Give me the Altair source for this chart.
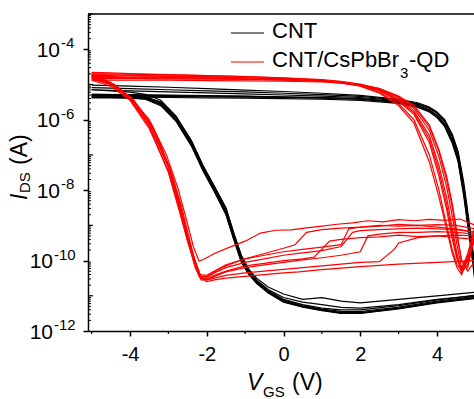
import altair as alt
import pandas as pd

# ---------------- data (log10 of I_DS in A) ----------------
# Black: CNT, forward sweeps (-5 -> 5)
BFX = [-5, -4, -3, -2, -1, 0, 1, 2, 3, 3.5, 3.8, 4.0, 4.2, 4.4, 4.55, 4.7, 4.8, 4.9, 5.0]
BF1 = [-5.02, -5.05, -5.08, -5.12, -5.16, -5.20, -5.25, -5.31, -5.42, -5.52, -5.64, -5.78, -6.00, -6.42, -6.90, -7.80, -8.60, -9.40, -10.3]
BF2 = [-5.15, -5.18, -5.21, -5.24, -5.27, -5.30, -5.33, -5.37, -5.46, -5.57, -5.68, -5.82, -6.06, -6.50, -7.00, -7.95, -8.75, -9.55, -10.4]
BF3 = [-5.28, -5.29, -5.30, -5.32, -5.33, -5.35, -5.37, -5.40, -5.49, -5.60, -5.72, -5.87, -6.12, -6.58, -7.10, -8.05, -8.85, -9.65, -10.5]
BF4 = [-5.32, -5.33, -5.34, -5.35, -5.36, -5.37, -5.39, -5.42, -5.51, -5.62, -5.75, -5.90, -6.16, -6.62, -7.15, -8.10, -8.95, -9.70, -10.6]
BF5 = [-5.35, -5.36, -5.37, -5.38, -5.39, -5.40, -5.42, -5.45, -5.54, -5.65, -5.78, -5.94, -6.20, -6.68, -7.20, -8.20, -9.00, -9.80, -10.7]
BF6 = [-5.09, -5.12, -5.15, -5.18, -5.21, -5.25, -5.29, -5.34, -5.44, -5.55, -5.66, -5.80, -6.03, -6.46, -6.95, -7.90, -8.70, -9.50, -10.4]
BF7 = [-5.30, -5.31, -5.32, -5.33, -5.34, -5.36, -5.38, -5.41, -5.50, -5.61, -5.74, -5.89, -6.14, -6.60, -7.12, -8.08, -8.90, -9.68, -10.55]

# Black: CNT, reverse sweeps (5 -> -5)
BRX = [5, 4, 3, 2, 1.5, 1, 0.5, 0, -0.4, -0.7, -0.9, -1.1, -1.3, -1.5, -1.8, -2.1, -2.4, -2.8, -3.2, -3.6, -4, -4.5, -5]
BR1 = [-10.90, -11.00, -11.10, -11.20, -11.15, -11.05, -11.10, -10.95, -10.75, -10.50, -10.25, -9.85, -9.20, -8.50, -7.90, -7.30, -6.60, -5.90, -5.45, -5.28, -5.22, -5.18, -5.15]
BR2 = [-10.98, -11.12, -11.28, -11.40, -11.40, -11.35, -11.25, -11.10, -10.85, -10.58, -10.30, -9.90, -9.25, -8.55, -7.92, -7.32, -6.62, -5.93, -5.50, -5.35, -5.30, -5.29, -5.28]
BR3 = [-11.02, -11.15, -11.32, -11.45, -11.44, -11.38, -11.28, -11.12, -10.88, -10.60, -10.35, -9.95, -9.30, -8.60, -7.95, -7.35, -6.65, -5.95, -5.52, -5.38, -5.34, -5.33, -5.32]
BR4 = [-11.05, -11.18, -11.35, -11.48, -11.47, -11.40, -11.30, -11.15, -10.90, -10.62, -10.38, -10.00, -9.35, -8.65, -8.00, -7.40, -6.70, -6.00, -5.55, -5.40, -5.37, -5.36, -5.35]
BR5 = [-11.08, -11.20, -11.37, -11.50, -11.50, -11.42, -11.32, -11.18, -10.92, -10.65, -10.40, -10.05, -9.40, -8.70, -8.05, -7.45, -6.75, -6.05, -5.60, -5.42, -5.39, -5.38, -5.38]
BR6 = [-11.00, -11.10, -11.25, -11.35, -11.33, -11.25, -11.18, -11.05, -10.82, -10.55, -10.28, -9.88, -9.22, -8.52, -7.90, -7.30, -6.60, -5.92, -5.50, -5.36, -5.33, -5.31, -5.30]
BR7 = [-11.06, -11.19, -11.36, -11.49, -11.49, -11.41, -11.31, -11.16, -10.91, -10.63, -10.39, -10.02, -9.37, -8.67, -8.02, -7.42, -6.72, -6.02, -5.57, -5.41, -5.38, -5.37, -5.36]

# Red: CNT/CsPbBr3-QD, forward sweeps (-5 -> 5)
RFX = [-5, -4.5, -4, -3, -2, -1, 0, 1, 1.5, 2, 2.5, 3.0, 3.4, 3.8, 4.05, 4.25, 4.4, 4.52, 4.64, 4.8, 5.0]
RF1 = [-4.66, -4.67, -4.69, -4.72, -4.75, -4.78, -4.82, -4.88, -4.94, -5.04, -5.22, -5.55, -6.00, -7.00, -8.00, -9.00, -9.70, -10.10, -10.30, -10.00, -9.30]
RF2 = [-4.72, -4.73, -4.74, -4.76, -4.78, -4.81, -4.84, -4.89, -4.94, -5.02, -5.18, -5.48, -5.85, -6.65, -7.60, -8.55, -9.40, -9.95, -10.25, -9.80, -9.00]
RF3 = [-4.78, -4.78, -4.79, -4.80, -4.82, -4.84, -4.86, -4.90, -4.95, -5.02, -5.15, -5.42, -5.75, -6.45, -7.30, -8.20, -9.10, -9.80, -10.35, -10.10, -9.20]
RF4 = [-4.83, -4.83, -4.83, -4.84, -4.85, -4.86, -4.88, -4.91, -4.95, -5.01, -5.13, -5.38, -5.68, -6.30, -7.05, -7.90, -8.75, -9.55, -10.20, -9.90, -9.40]
RF5 = [-4.88, -4.88, -4.88, -4.88, -4.89, -4.90, -4.91, -4.93, -4.96, -5.02, -5.12, -5.33, -5.60, -6.15, -6.85, -7.60, -8.40, -9.20, -10.00, -10.30, -10.00]
RF6 = [-4.75, -4.75, -4.76, -4.77, -4.79, -4.81, -4.84, -4.89, -4.95, -5.05, -5.25, -5.60, -6.10, -7.20, -8.20, -9.10, -9.80, -10.20, -10.40, -9.90, -9.10]
RF7 = [-4.70, -4.70, -4.71, -4.73, -4.75, -4.78, -4.81, -4.86, -4.91, -4.99, -5.12, -5.36, -5.62, -6.20, -6.90, -7.70, -8.50, -9.30, -10.00, -10.20, -9.20]
RF8 = [-4.80, -4.80, -4.81, -4.82, -4.83, -4.85, -4.87, -4.91, -4.96, -5.03, -5.17, -5.45, -5.80, -6.55, -7.45, -8.40, -9.25, -9.90, -10.30, -10.00, -9.25]

# Red: reverse sweeps (5 -> -5)
RR1X = [5, 4.5, 4.0, 3.5, 3.0, 2.9, 2.5, 2.0, 1.5, 1.0, 0.5, 0, -0.5, -1.0, -1.5, -1.8, -2.0, -2.15, -2.3, -2.5, -2.7, -3.0, -3.5, -4.0, -4.5, -5]
RR1 = [-9.30, -9.28, -9.30, -9.35, -9.50, -9.67, -10.03, -10.05, -10.10, -10.15, -10.20, -10.25, -10.30, -10.35, -10.42, -10.50, -10.55, -10.50, -10.10, -9.45, -8.65, -7.50, -6.20, -5.40, -4.95, -4.72]
RR2X = [5, 4.6, 4.2, 3.8, 3.4, 3.0, 2.6, 2.2, 1.8, 1.4, 1.0, 0.6, 0.2, -0.2, -0.6, -1.0, -1.4, -1.8, -2.05, -2.2, -2.35, -2.55, -2.75, -3.05, -3.5, -4.0, -4.5, -5]
RR2 = [-9.00, -8.82, -8.86, -8.83, -8.87, -8.84, -8.90, -8.87, -8.93, -8.97, -9.02, -9.07, -9.13, -9.14, -9.22, -9.45, -9.62, -9.80, -9.95, -10.02, -9.60, -8.75, -7.95, -7.00, -6.00, -5.35, -4.98, -4.78]
RR3X = [5, 4.5, 4.0, 3.5, 3.0, 2.5, 2.0, 1.8, 1.5, 1.0, 0.5, 0, -0.5, -1.0, -1.5, -1.8, -2.0, -2.15, -2.3, -2.45, -2.65, -2.95, -3.4, -3.9, -4.4, -5]
RR3 = [-9.20, -9.12, -9.10, -9.08, -9.10, -9.12, -9.15, -9.20, -9.60, -9.72, -9.78, -9.85, -9.95, -10.05, -10.20, -10.35, -10.48, -10.45, -10.05, -9.40, -8.50, -7.40, -6.25, -5.45, -5.02, -4.83]
RR4X = [5, 4.5, 4.0, 3.5, 3.0, 2.5, 2.0, 1.5, 1.2, 0.8, 0.5, 0, -0.5, -1.0, -1.5, -1.8, -2.0, -2.15, -2.3, -2.5, -2.7, -3.0, -3.5, -4.0, -4.5, -5]
RR4 = [-9.40, -9.35, -9.30, -9.32, -9.28, -9.33, -9.35, -9.40, -9.45, -9.90, -9.95, -10.00, -10.08, -10.15, -10.30, -10.42, -10.52, -10.50, -10.15, -9.45, -8.60, -7.45, -6.25, -5.45, -5.05, -4.88]
RR5X = [5, 4.0, 3.0, 2.0, 1.0, 0.4, 0, -0.5, -1.0, -1.5, -1.8, -2.0, -2.2, -2.35, -2.5, -2.7, -3.0, -3.5, -4.0, -4.5, -5]
RR5 = [-10.00, -10.05, -10.10, -10.17, -10.26, -10.32, -10.35, -10.40, -10.45, -10.50, -10.55, -10.60, -10.45, -10.00, -9.35, -8.50, -7.35, -6.15, -5.40, -5.00, -4.85]
RR6X = [5, 4.5, 4.0, 3.5, 3.0, 2.5, 2.0, 1.7, 1.5, 1.0, 0.5, 0, -0.5, -1.0, -1.5, -1.8, -2.0, -2.2, -2.35, -2.5, -2.7, -3.0, -3.4, -3.9, -4.4, -5]
RR6 = [-9.10, -9.00, -8.98, -9.00, -8.97, -9.02, -9.05, -9.10, -9.55, -9.62, -9.68, -9.75, -9.85, -9.95, -10.12, -10.30, -10.42, -10.40, -9.90, -9.30, -8.45, -7.30, -6.20, -5.45, -5.00, -4.75]
RR7X = [5, 4.5, 4.0, 3.5, 3.0, 2.5, 2.0, 1.5, 1.0, 0.6, 0.3, 0, -0.5, -1.0, -1.5, -1.8, -2.0, -2.15, -2.3, -2.5, -2.7, -3.0, -3.5, -4.0, -4.5, -5]
RR7 = [-9.20, -9.10, -9.05, -9.00, -9.02, -9.00, -9.05, -9.08, -9.12, -9.20, -9.55, -9.65, -9.80, -9.95, -10.15, -10.32, -10.45, -10.48, -10.00, -9.30, -8.45, -7.30, -6.10, -5.35, -4.95, -4.70]
RR8X = [5, 4.5, 4.0, 3.5, 3.0, 2.5, 2.2, 2.0, 1.5, 1.0, 0.5, 0, -0.5, -1.0, -1.5, -1.8, -2.0, -2.15, -2.3, -2.45, -2.6, -2.9, -3.3, -3.8, -4.4, -5]
RR8 = [-9.25, -9.20, -9.18, -9.20, -9.20, -9.25, -9.30, -9.75, -9.85, -9.92, -9.98, -10.05, -10.12, -10.20, -10.32, -10.45, -10.55, -10.55, -10.20, -9.60, -8.80, -7.60, -6.45, -5.60, -5.05, -4.80]

SERIES = ["CNT", "CNT/CsPbBr3-QD"]
Y_LABEL_VALUES = [1e-12, 1e-10, 1e-8, 1e-6, 1e-4]
Y_LABEL_EXP = ["-12", "-10", "-8", "-6", "-4"]
X_LABEL_VALUES = [-4, -2, 0, 2, 4]
X_MINOR = [-5, -3, -1, 1, 3]

# ---------------- build table ----------------
rows = []
def add(series, cid, xs, ys):
    for i, (xv, yv) in enumerate(zip(xs, ys)):
        rows.append({"series": series, "curve": cid, "i": i, "V": xv, "I": 10 ** yv})

for k, (f, r) in enumerate(zip([BF1, BF2, BF3, BF4, BF5, BF6, BF7],
                               [BR1, BR2, BR3, BR4, BR5, BR6, BR7])):
    add(SERIES[0], f"b{k}f", BFX, f)
    add(SERIES[0], f"b{k}r", BRX, r)
for k, (f, rx, r) in enumerate(zip([RF1, RF2, RF3, RF4, RF5, RF6, RF7, RF8],
                                   [RR1X, RR2X, RR3X, RR4X, RR5X, RR6X, RR7X, RR8X],
                                   [RR1, RR2, RR3, RR4, RR5, RR6, RR7, RR8])):
    add(SERIES[1], f"r{k}f", RFX, f)
    add(SERIES[1], f"r{k}r", rx, r)
df = pd.DataFrame(rows)

W, H = 386, 317
FONT = "Liberation Sans"
xscale = alt.Scale(domain=[-5.095, 4.964], nice=False, zero=False)
yscale = alt.Scale(type="log", domain=[1e-12, 1e-3], nice=False)

lines = alt.Chart(df).mark_line(strokeWidth=1.2, clip=True).encode(
    x=alt.X("V:Q", scale=xscale,
            axis=alt.Axis(values=X_LABEL_VALUES, title=None, grid=False,
                          labelExpr="'' + datum.value", labelFont=FONT, labelFontSize=20,
                          labelColor="black", labelPadding=8, tickSize=5, tickWidth=1.5,
                          tickColor="black", domainColor="black", domainWidth=1.5)),
    y=alt.Y("I:Q", scale=yscale,
            axis=alt.Axis(values=Y_LABEL_VALUES, title=None, grid=False, labels=False,
                          tickSize=5, tickWidth=1.5, tickColor="black",
                          domainColor="black", domainWidth=1.5)),
    color=alt.Color("series:N", scale=alt.Scale(domain=SERIES, range=["#000000", "#ff0000"]), legend=None),
    detail="curve:N",
    order="i:Q",
)

# minor ticks
xminor = alt.Chart(pd.DataFrame({"v": X_MINOR})).mark_rule(color="black", strokeWidth=1.2).encode(
    x=alt.X("v:Q", scale=xscale), y=alt.value(H), y2=alt.value(H + 3))
ymin_vals = [m * 10.0 ** k for k in range(-12, -3) for m in range(2, 10)]
yminor = alt.Chart(pd.DataFrame({"v": ymin_vals})).mark_rule(color="black", strokeWidth=1).encode(
    y=alt.Y("v:Q", scale=yscale), x=alt.value(0), x2=alt.value(3))
yodd = alt.Chart(pd.DataFrame({"v": [1e-11, 1e-9, 1e-7, 1e-5, 1e-3]})).mark_rule(color="black", strokeWidth=1.2).encode(
    y=alt.Y("v:Q", scale=yscale), x=alt.value(0), x2=alt.value(5))

one = pd.DataFrame({"a": [0]})
topline = alt.Chart(one).mark_rule(color="black", strokeWidth=1.5).encode(
    x=alt.value(0), x2=alt.value(W), y=alt.value(0))

# y tick labels 10^n (whole label right-aligned next to the axis)
ylab = pd.DataFrame({"v": Y_LABEL_VALUES, "e": Y_LABEL_EXP})
ybase = alt.Chart(ylab).transform_calculate(
    xb="-28 - (length(datum.e) - 2) * 7"
).mark_text(font=FONT, fontSize=21, align="right", baseline="alphabetic", dy=7.5, color="black").encode(
    y=alt.Y("v:Q", scale=yscale), x=alt.X("xb:Q", scale=None), text=alt.value("10"))
yexp = alt.Chart(ylab).transform_calculate(
    xb="-27 - (length(datum.e) - 2) * 7"
).mark_text(font=FONT, fontSize=15, align="left", baseline="alphabetic", dy=-1, color="black").encode(
    y=alt.Y("v:Q", scale=yscale), x=alt.X("xb:Q", scale=None), text="e:N")

def txt(s, x, y, size, italic=False, angle=0, color="black"):
    kw = dict(font=FONT, fontSize=size, align="left", baseline="alphabetic", color=color)
    if italic:
        kw["fontStyle"] = "italic"
    if angle:
        kw["angle"] = angle
    return alt.Chart(one).mark_text(**kw).encode(x=alt.value(x), y=alt.value(y), text=alt.value(s))

# axis titles
xt = [txt("V", 159, 376, 23, italic=True), txt("GS", 175, 383, 15), txt("(V)", 204, 376, 23)]
yt = [txt("I", -61, 186, 23, italic=True, angle=270), txt("DS", -58, 179, 15, angle=270),
      txt("(A)", -61, 151, 23, angle=270)]

# legend
leg_b = alt.Chart(one).mark_rule(color="black", strokeWidth=1.2).encode(x=alt.value(143), x2=alt.value(176), y=alt.value(19))
leg_r = alt.Chart(one).mark_rule(color="#ff0000", strokeWidth=1.2).encode(x=alt.value(143), x2=alt.value(176), y=alt.value(48))
legt = [txt("CNT", 184, 24, 22), txt("CNT/CsPbBr", 184, 53, 22), txt("3", 312, 64, 15), txt("-QD", 321, 53, 22)]

chart = alt.layer(
    lines, xminor, yminor, yodd, topline, ybase, yexp, leg_b, leg_r, *xt, *yt, *legt
).properties(
    width=W, height=H,
    padding={"left": 88, "top": 14, "right": 0, "bottom": 68},
    autosize=alt.AutoSizeParams(type="none"),
).configure_view(strokeOpacity=0)

chart.save("out.html", embed_options={"renderer": "svg", "actions": False})
